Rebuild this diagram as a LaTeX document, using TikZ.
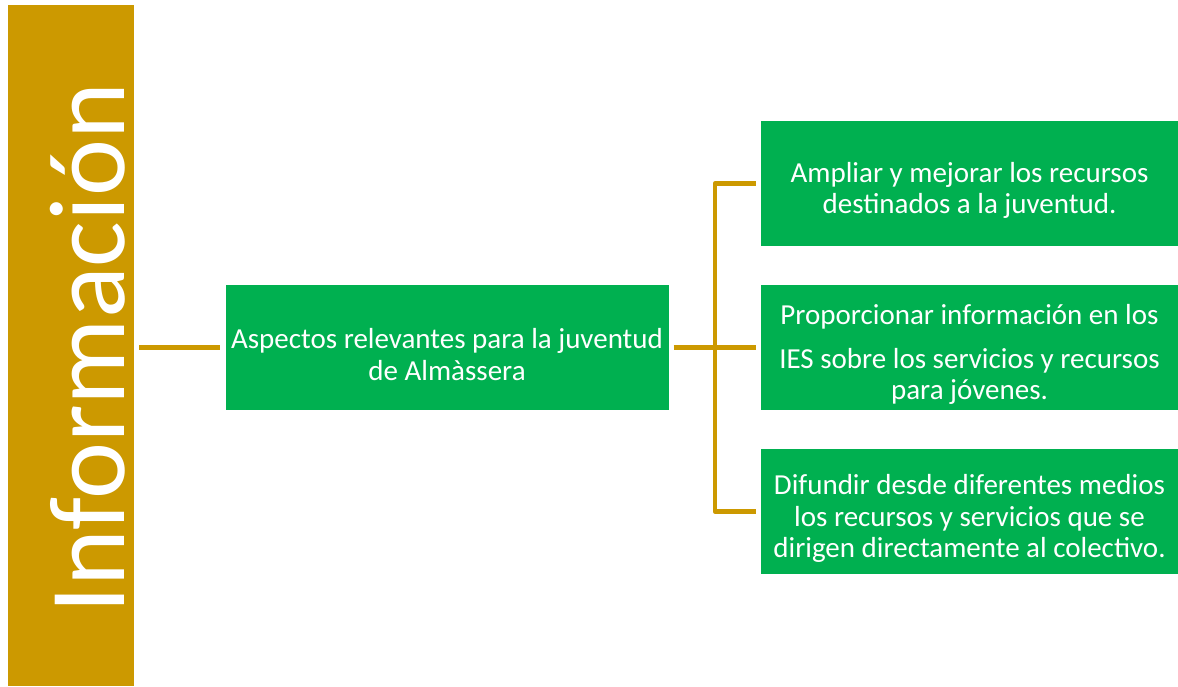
\documentclass[tikz,border=0pt]{standalone}
\usepackage{fontspec}
\setmainfont{Carlito}
\usetikzlibrary{positioning}
\definecolor{gold}{RGB}{204,153,0}
\definecolor{leafgreen}{RGB}{0,176,80}
\tikzset{
  box/.style={fill=leafgreen, minimum height=125pt, inner sep=0pt},
  boxtext/.style={text=white, align=center, inner sep=0pt, yshift=-7pt, font=\fontsize{29}{31.5}\selectfont},
  link/.style={draw=gold, line width=4.5pt, line join=round, shorten <=5pt, shorten >=5pt}
}
\begin{document}
\begin{tikzpicture}[x=1pt,y=-1pt]
  \useasboundingbox (0,0) rectangle (1178,686);
  \node[fill=gold, minimum width=126pt, minimum height=681pt, inner sep=0pt] (bar) at (71,345.5) {};
  \node[rotate=90, anchor=base west, text=white, inner sep=0pt, font=\fontsize{108}{108}\selectfont] (title) at (124,614) {Información};
  \node[box, minimum width=443pt] (hub) at (447,347.5) {};
  \node[boxtext] (hubtext) at (hub) {Aspectos relevantes para la juventud\\de Almàssera};
  \node[box, minimum width=417pt] (b1) at (969.5,183.5) {};
  \node[boxtext] (b1text) at (b1) {Ampliar y mejorar los recursos\\destinados a la juventud.};
  \node[box, minimum width=417pt] (b2) at (969.5,347.5) {};
  \node[boxtext] (b2text) at (b2) {Proporcionar información en los\\[12pt]IES sobre los servicios y recursos\\para jóvenes.};
  \node[box, minimum width=417pt] (b3) at (969.5,511.5) {};
  \node[boxtext] (b3text) at (b3) {Difundir desde diferentes medios\\los recursos y servicios que se\\dirigen directamente al colectivo.};
  \coordinate (fork) at (715,347.5);
  \draw[link] (hub.west -| bar.east) -- (hub.west);
  \draw[link] (hub.east) -- (b2.west);
  \draw[link] (b1.west) -| (fork) |- (b3.west);
\end{tikzpicture}
\end{document}
